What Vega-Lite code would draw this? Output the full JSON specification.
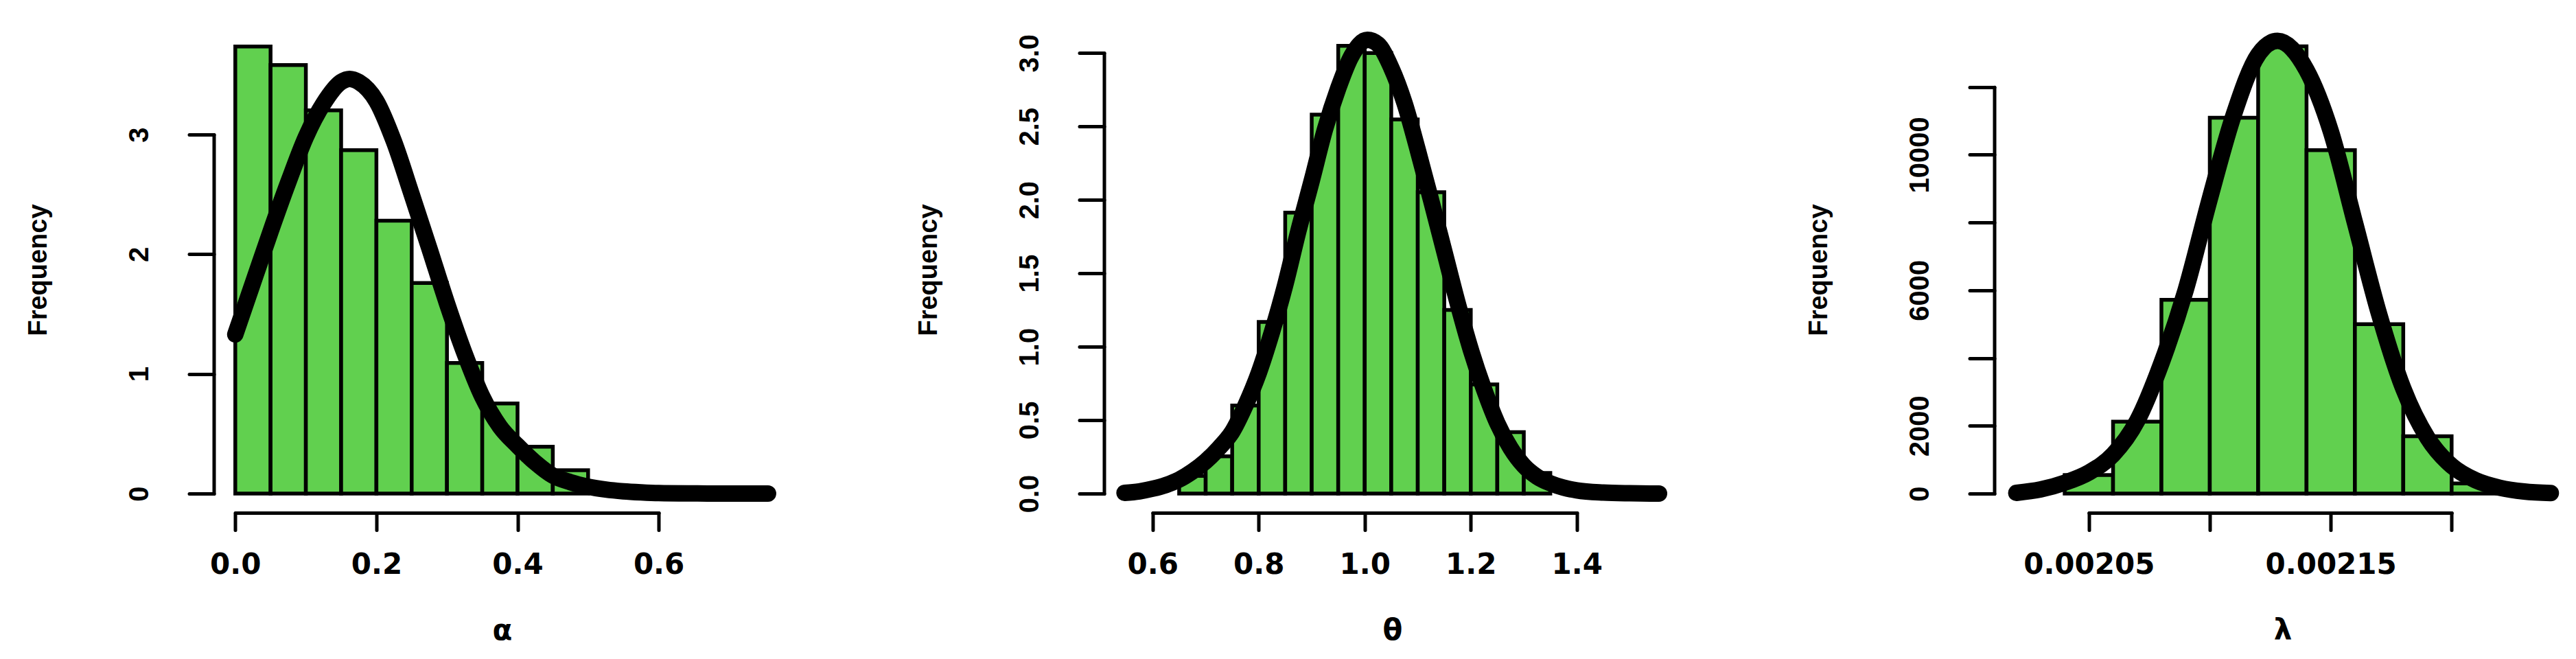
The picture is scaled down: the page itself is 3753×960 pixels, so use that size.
{
  "$schema": "https://vega.github.io/schema/vega-lite/v6.json",
  "background": "white",
  "autosize": {"type": "pad"},
  "padding": {"left": 37.5, "top": 39, "right": 0, "bottom": 21},
  "spacing": 457,
  "bounds": "flush",
  "config": {
    "view": {"stroke": null},
    "axis": {
      "grid": false,
      "domainColor": "#000000",
      "domainWidth": 5,
      "domainCap": "round",
      "tickColor": "#000000",
      "tickWidth": 5,
      "tickCap": "round",
      "labelColor": "#000000",
      "titleColor": "#000000",
      "labelFlush": false,
      "labelOverlap": false,
      "labelLimit": 0,
      "titleLimit": 0,
      "labelFontWeight": "bold",
      "titleFontWeight": "bold"
    }
  },
  "datasets": {
    "alpha_hist": [
      {"x": 0.0, "x2": 0.05, "y": 3.736},
      {"x": 0.05, "x2": 0.1, "y": 3.582},
      {"x": 0.1, "x2": 0.15, "y": 3.203},
      {"x": 0.15, "x2": 0.2, "y": 2.87},
      {"x": 0.2, "x2": 0.25, "y": 2.28},
      {"x": 0.25, "x2": 0.3, "y": 1.76},
      {"x": 0.3, "x2": 0.35, "y": 1.091},
      {"x": 0.35, "x2": 0.4, "y": 0.753},
      {"x": 0.4, "x2": 0.45, "y": 0.392},
      {"x": 0.45, "x2": 0.5, "y": 0.195}
    ],
    "alpha_curve": [
      {"x": 0.0, "y": 1.33}, {"x": 0.025, "y": 1.76}, {"x": 0.05, "y": 2.19}, {"x": 0.075, "y": 2.6},
      {"x": 0.1, "y": 2.98}, {"x": 0.125, "y": 3.26}, {"x": 0.15, "y": 3.44}, {"x": 0.162, "y": 3.466},
      {"x": 0.175, "y": 3.44}, {"x": 0.2, "y": 3.28}, {"x": 0.225, "y": 2.94}, {"x": 0.25, "y": 2.5},
      {"x": 0.275, "y": 2.05}, {"x": 0.3, "y": 1.59}, {"x": 0.325, "y": 1.17}, {"x": 0.35, "y": 0.81},
      {"x": 0.375, "y": 0.56}, {"x": 0.4, "y": 0.4}, {"x": 0.425, "y": 0.26}, {"x": 0.45, "y": 0.15},
      {"x": 0.475, "y": 0.095}, {"x": 0.5, "y": 0.058}, {"x": 0.525, "y": 0.034}, {"x": 0.55, "y": 0.019},
      {"x": 0.575, "y": 0.01}, {"x": 0.6, "y": 0.004}, {"x": 0.65, "y": 0.001}, {"x": 0.7, "y": 0.0},
      {"x": 0.755, "y": 0.0}
    ],
    "theta_hist": [
      {"x": 0.65, "x2": 0.7, "y": 0.12},
      {"x": 0.7, "x2": 0.75, "y": 0.254},
      {"x": 0.75, "x2": 0.8, "y": 0.6},
      {"x": 0.8, "x2": 0.85, "y": 1.169},
      {"x": 0.85, "x2": 0.9, "y": 1.913},
      {"x": 0.9, "x2": 0.95, "y": 2.581},
      {"x": 0.95, "x2": 1.0, "y": 3.049},
      {"x": 1.0, "x2": 1.05, "y": 3.0},
      {"x": 1.05, "x2": 1.1, "y": 2.548},
      {"x": 1.1, "x2": 1.15, "y": 2.052},
      {"x": 1.15, "x2": 1.2, "y": 1.251},
      {"x": 1.2, "x2": 1.25, "y": 0.743},
      {"x": 1.25, "x2": 1.3, "y": 0.419},
      {"x": 1.3, "x2": 1.35, "y": 0.14}
    ],
    "theta_curve": [
      {"x": 0.547, "y": 0.005}, {"x": 0.575, "y": 0.015}, {"x": 0.6, "y": 0.033}, {"x": 0.625, "y": 0.058},
      {"x": 0.65, "y": 0.095}, {"x": 0.675, "y": 0.15}, {"x": 0.7, "y": 0.22}, {"x": 0.725, "y": 0.31},
      {"x": 0.75, "y": 0.42}, {"x": 0.775, "y": 0.6}, {"x": 0.8, "y": 0.82}, {"x": 0.825, "y": 1.1},
      {"x": 0.85, "y": 1.42}, {"x": 0.875, "y": 1.79}, {"x": 0.9, "y": 2.13}, {"x": 0.925, "y": 2.48},
      {"x": 0.95, "y": 2.76}, {"x": 0.975, "y": 2.98}, {"x": 1.005, "y": 3.09}, {"x": 1.025, "y": 3.06},
      {"x": 1.05, "y": 2.9}, {"x": 1.075, "y": 2.66}, {"x": 1.1, "y": 2.34}, {"x": 1.125, "y": 2.0},
      {"x": 1.15, "y": 1.65}, {"x": 1.175, "y": 1.3}, {"x": 1.2, "y": 0.98}, {"x": 1.225, "y": 0.71},
      {"x": 1.25, "y": 0.48}, {"x": 1.275, "y": 0.31}, {"x": 1.3, "y": 0.19}, {"x": 1.325, "y": 0.115},
      {"x": 1.35, "y": 0.07}, {"x": 1.375, "y": 0.04}, {"x": 1.4, "y": 0.022}, {"x": 1.45, "y": 0.007},
      {"x": 1.5, "y": 0.002}, {"x": 1.555, "y": 0.0}
    ],
    "lambda_hist": [
      {"x": 0.00204, "x2": 0.00206, "y": 545},
      {"x": 0.00206, "x2": 0.00208, "y": 2124},
      {"x": 0.00208, "x2": 0.0021, "y": 5718},
      {"x": 0.0021, "x2": 0.00212, "y": 11092},
      {"x": 0.00212, "x2": 0.00214, "y": 13197},
      {"x": 0.00214, "x2": 0.00216, "y": 10136},
      {"x": 0.00216, "x2": 0.00218, "y": 5001},
      {"x": 0.00218, "x2": 0.0022, "y": 1692},
      {"x": 0.0022, "x2": 0.00222, "y": 300}
    ],
    "lambda_curve": [
      {"x": 0.00202, "y": 20}, {"x": 0.00203, "y": 120}, {"x": 0.00204, "y": 320}, {"x": 0.00205, "y": 620},
      {"x": 0.00206, "y": 1150}, {"x": 0.00207, "y": 2150}, {"x": 0.00208, "y": 3850}, {"x": 0.00209, "y": 6000},
      {"x": 0.0021, "y": 8700}, {"x": 0.00211, "y": 11200}, {"x": 0.00212, "y": 12950}, {"x": 0.002128, "y": 13360},
      {"x": 0.00214, "y": 12500}, {"x": 0.00215, "y": 10700}, {"x": 0.00216, "y": 8000}, {"x": 0.00217, "y": 5300},
      {"x": 0.00218, "y": 3100}, {"x": 0.00219, "y": 1650}, {"x": 0.0022, "y": 820}, {"x": 0.00221, "y": 390},
      {"x": 0.00222, "y": 170}, {"x": 0.00223, "y": 60}, {"x": 0.002241, "y": 15}
    ]
  },
  "hconcat": [
    {
      "width": 840,
      "height": 708,
      "encoding": {
        "x": {
          "field": "x", "type": "quantitative",
          "scale": {"domain": [0, 0.6], "range": [31.3, 648.1], "nice": false, "zero": false},
          "axis": {
            "values": [0, 0.2, 0.4, 0.6], "format": ".1f", "title": "α",
            "tickSize": 25, "labelPadding": 30.5, "labelFont": "DejaVu Sans", "labelFontSize": 42,
            "labelAngle": 0, "labelAlign": "center", "labelBaseline": "top",
            "titleFont": "DejaVu Sans", "titleFontSize": 42, "titleX": 420, "titleY": 184,
            "titleAlign": "center", "titleBaseline": "alphabetic", "titleAngle": 0
          }
        },
        "y": {
          "field": "y", "type": "quantitative",
          "scale": {"domain": [0, 3], "range": [680, 157.1], "nice": false, "zero": false},
          "axis": {
            "values": [0, 1, 2, 3], "format": "d", "title": "Frequency",
            "tickSize": 36, "labelPadding": 60, "labelFont": "Liberation Sans", "labelFontSize": 40,
            "labelAngle": 270, "labelAlign": "center", "labelBaseline": "alphabetic",
            "titleFont": "Liberation Sans", "titleFontSize": 38, "titleX": -244, "titleY": 354,
            "titleAlign": "center", "titleBaseline": "alphabetic", "titleAngle": 270
          }
        }
      },
      "layer": [
        {
          "data": {"name": "alpha_hist"},
          "mark": {"type": "rect", "fill": "#61D04F", "stroke": "#000000", "strokeWidth": 5.5},
          "encoding": {"x2": {"field": "x2"}, "y2": {"datum": 0}}
        },
        {
          "data": {"name": "alpha_curve"},
          "mark": {"type": "line", "color": "#000000", "strokeWidth": 24, "strokeCap": "round", "strokeJoin": "round", "interpolate": "monotone"},
          "encoding": {}
        }
      ]
    },
    {
      "width": 840,
      "height": 708,
      "encoding": {
        "x": {
          "field": "x", "type": "quantitative",
          "scale": {"domain": [0.6, 1.4], "range": [70.8, 688.8], "nice": false, "zero": false},
          "axis": {
            "values": [0.6, 0.8, 1.0, 1.2, 1.4], "format": ".1f", "title": "θ",
            "tickSize": 25, "labelPadding": 30.5, "labelFont": "DejaVu Sans", "labelFontSize": 42,
            "labelAngle": 0, "labelAlign": "center", "labelBaseline": "top",
            "titleFont": "DejaVu Sans", "titleFontSize": 42, "titleX": 420, "titleY": 184,
            "titleAlign": "center", "titleBaseline": "alphabetic", "titleAngle": 0
          }
        },
        "y": {
          "field": "y", "type": "quantitative",
          "scale": {"domain": [0, 3], "range": [680, 38.3], "nice": false, "zero": false},
          "axis": {
            "values": [0, 0.5, 1, 1.5, 2, 2.5, 3], "format": ".1f", "title": "Frequency",
            "tickSize": 36, "labelPadding": 60, "labelFont": "Liberation Sans", "labelFontSize": 40,
            "labelAngle": 270, "labelAlign": "center", "labelBaseline": "alphabetic",
            "titleFont": "Liberation Sans", "titleFontSize": 38, "titleX": -244, "titleY": 354,
            "titleAlign": "center", "titleBaseline": "alphabetic", "titleAngle": 270
          }
        }
      },
      "layer": [
        {
          "data": {"name": "theta_hist"},
          "mark": {"type": "rect", "fill": "#61D04F", "stroke": "#000000", "strokeWidth": 5.5},
          "encoding": {"x2": {"field": "x2"}, "y2": {"datum": 0}}
        },
        {
          "data": {"name": "theta_curve"},
          "mark": {"type": "line", "color": "#000000", "strokeWidth": 24, "strokeCap": "round", "strokeJoin": "round", "interpolate": "monotone"},
          "encoding": {}
        }
      ]
    },
    {
      "width": 840,
      "height": 708,
      "encoding": {
        "x": {
          "field": "x", "type": "quantitative",
          "scale": {"domain": [0.00205, 0.0022], "range": [137.8, 666.3], "nice": false, "zero": false},
          "axis": {
            "values": [0.00205, 0.0021, 0.00215, 0.0022], "title": "λ",
            "labelExpr": "(datum.value < 0.002075 || (datum.value > 0.002125 && datum.value < 0.002175)) ? format(datum.value, '.5f') : ''",
            "tickSize": 25, "labelPadding": 30.5, "labelFont": "DejaVu Sans", "labelFontSize": 42,
            "labelAngle": 0, "labelAlign": "center", "labelBaseline": "top",
            "titleFont": "DejaVu Sans", "titleFontSize": 42, "titleX": 420, "titleY": 184,
            "titleAlign": "center", "titleBaseline": "alphabetic", "titleAngle": 0
          }
        },
        "y": {
          "field": "y", "type": "quantitative",
          "scale": {"domain": [0, 12000], "range": [680, 87.7], "nice": false, "zero": false},
          "axis": {
            "values": [0, 2000, 4000, 6000, 8000, 10000, 12000], "title": "Frequency",
            "labelExpr": "(datum.value == 0 || datum.value == 2000 || datum.value == 6000 || datum.value == 10000) ? format(datum.value, 'd') : ''",
            "tickSize": 36, "labelPadding": 60, "labelFont": "Liberation Sans", "labelFontSize": 40,
            "labelAngle": 270, "labelAlign": "center", "labelBaseline": "alphabetic",
            "titleFont": "Liberation Sans", "titleFontSize": 38, "titleX": -244, "titleY": 354,
            "titleAlign": "center", "titleBaseline": "alphabetic", "titleAngle": 270
          }
        }
      },
      "layer": [
        {
          "data": {"name": "lambda_hist"},
          "mark": {"type": "rect", "fill": "#61D04F", "stroke": "#000000", "strokeWidth": 5.5},
          "encoding": {"x2": {"field": "x2"}, "y2": {"datum": 0}}
        },
        {
          "data": {"name": "lambda_curve"},
          "mark": {"type": "line", "color": "#000000", "strokeWidth": 24, "strokeCap": "round", "strokeJoin": "round", "interpolate": "monotone"},
          "encoding": {}
        }
      ]
    }
  ]
}
